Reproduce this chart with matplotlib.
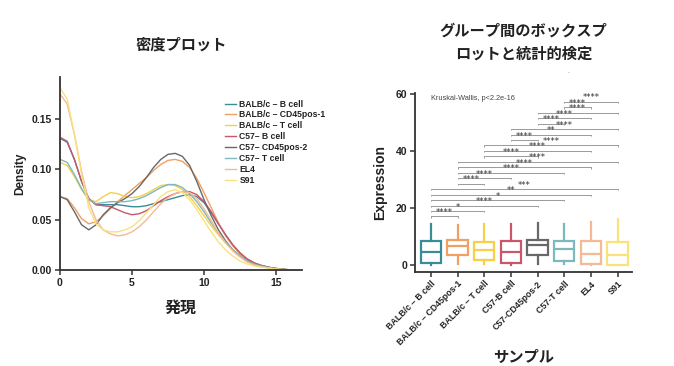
import matplotlib
matplotlib.use("Agg")
import matplotlib.pyplot as plt

# ---- data ----
groups = ["BALB/c – B cell", "BALB/c – CD45pos-1", "BALB/c – T cell", "C57– B cell",
          "C57– CD45pos-2", "C57– T cell", "EL4", "S91"]
box_labels = ["BALB/c – B cell", "BALB/c – CD45pos-1", "BALB/c – T cell", "C57-B cell",
              "C57-CD45pos-2", "C57-T cell", "EL4", "S91"]
colors = ["#3B8C99", "#F0A062", "#F5D048", "#C9566B", "#686868", "#7DB8BE", "#F4BA98", "#F9E27C"]

dens_x = [0, 0.5, 1, 1.5, 2, 2.5, 3, 3.5, 4, 4.5, 5, 5.5, 6, 6.5, 7, 7.5, 8, 8.5,
          9, 9.5, 10, 10.5, 11, 11.5, 12, 12.5, 13, 13.5, 14, 14.5, 15, 15.5, 16]
dens_balb_b = [0.131, 0.127, 0.110, 0.088, 0.071, 0.065, 0.065, 0.065, 0.065, 0.064, 0.063,
               0.063, 0.064, 0.066, 0.068, 0.070, 0.072, 0.074, 0.075, 0.073, 0.067, 0.057,
               0.046, 0.035, 0.025, 0.017, 0.011, 0.007, 0.0045, 0.0028, 0.0016, 0.0008, 0.0002]
dens_balb_cd45 = [0.073, 0.071, 0.062, 0.051, 0.046, 0.048, 0.054, 0.061, 0.068, 0.074, 0.080,
                  0.086, 0.092, 0.099, 0.105, 0.109, 0.110, 0.108, 0.102, 0.091, 0.077, 0.062,
                  0.047, 0.034, 0.024, 0.016, 0.011, 0.007, 0.0045, 0.0028, 0.0016, 0.0008, 0.0002]
dens_balb_t = [0.107, 0.104, 0.093, 0.080, 0.070, 0.068, 0.073, 0.077, 0.076, 0.073, 0.072,
               0.073, 0.076, 0.080, 0.084, 0.085, 0.084, 0.080, 0.073, 0.064, 0.054, 0.044,
               0.035, 0.027, 0.020, 0.014, 0.009, 0.006, 0.004, 0.0025, 0.0015, 0.0007, 0.0002]
dens_c57_b = [0.132, 0.128, 0.110, 0.088, 0.071, 0.065, 0.064, 0.063, 0.060, 0.057, 0.055,
              0.056, 0.059, 0.064, 0.069, 0.073, 0.076, 0.078, 0.078, 0.075, 0.068, 0.058,
              0.046, 0.035, 0.025, 0.017, 0.011, 0.007, 0.0045, 0.0028, 0.0016, 0.0008, 0.0002]
dens_c57_cd45 = [0.073, 0.070, 0.058, 0.045, 0.040, 0.045, 0.055, 0.062, 0.067, 0.071, 0.076,
                 0.083, 0.092, 0.102, 0.110, 0.115, 0.116, 0.113, 0.104, 0.088, 0.070, 0.054,
                 0.040, 0.029, 0.020, 0.014, 0.009, 0.006, 0.004, 0.0025, 0.0015, 0.0007, 0.0002]
dens_c57_t = [0.110, 0.107, 0.095, 0.081, 0.070, 0.066, 0.067, 0.068, 0.068, 0.068, 0.069,
              0.071, 0.074, 0.078, 0.082, 0.085, 0.085, 0.082, 0.076, 0.068, 0.058, 0.047,
              0.037, 0.028, 0.020, 0.014, 0.009, 0.006, 0.004, 0.0025, 0.0015, 0.0007, 0.0002]
dens_el4 = [0.175, 0.165, 0.135, 0.098, 0.068, 0.050, 0.040, 0.036, 0.034, 0.035, 0.038,
            0.043, 0.050, 0.058, 0.066, 0.072, 0.076, 0.078, 0.077, 0.071, 0.061, 0.049,
            0.037, 0.027, 0.019, 0.013, 0.008, 0.005, 0.003, 0.002, 0.001, 0.0005, 0.0001]
dens_s91 = [0.181, 0.170, 0.135, 0.095, 0.062, 0.046, 0.040, 0.038, 0.038, 0.040, 0.043,
            0.049, 0.057, 0.065, 0.073, 0.078, 0.080, 0.077, 0.070, 0.060, 0.049, 0.038,
            0.028, 0.020, 0.014, 0.009, 0.006, 0.004, 0.003, 0.002, 0.001, 0.0005, 0.0001]
densities = [dens_balb_b, dens_balb_cd45, dens_balb_t, dens_c57_b,
             dens_c57_cd45, dens_c57_t, dens_el4, dens_s91]

# box stats
whislo = [0.0, 0.2, 0.2, 0.0, 0.2, 0.2, 0.0, 0.0]
q1 = [0.5, 3.3, 1.6, 0.6, 3.5, 1.4, 0.2, 0.0]
med = [4.6, 6.7, 5.1, 4.6, 7.0, 5.4, 3.9, 3.4]
q3 = [8.4, 8.9, 8.1, 8.5, 8.9, 8.3, 8.4, 8.0]
whishi = [14.4, 14.0, 14.3, 14.4, 14.6, 14.3, 15.2, 16.1]

# pairwise comparisons (bottom to top) and their significance labels
pairs = [(0, 1), (0, 2), (0, 4), (0, 5), (0, 6), (0, 7),
         (1, 2), (1, 3), (1, 5), (1, 6), (1, 7),
         (2, 4), (2, 6), (2, 7),
         (3, 4), (3, 6), (3, 7),
         (4, 5), (4, 6), (4, 7),
         (5, 6), (5, 7)]
sig = ["****", "*", "****", "*", "**", "***",
       "****", "****", "****", "****", "****",
       "****", "****", "****",
       "****", "**", "****",
       "****", "****", "****",
       "****", "****"]

TEXT = "#222222"
SPINE = "#333333"
CJK = ["Noto Sans CJK JP", "DejaVu Sans"]
plt.rcParams["font.family"] = ["Liberation Sans", "Noto Sans CJK JP", "DejaVu Sans"]

fig = plt.figure(figsize=(6.74, 3.66), dpi=100)
fig.patch.set_facecolor("white")


def style_axes(ax):
    for side in ("top", "right"):
        ax.spines[side].set_visible(False)
    for side in ("left", "bottom"):
        ax.spines[side].set_color(SPINE)
        ax.spines[side].set_linewidth(1.3)
    ax.tick_params(direction="out", length=3.5, width=1.1, color=SPINE,
                   labelsize=7.5, labelcolor=TEXT, pad=2)
    for lab in ax.get_xticklabels() + ax.get_yticklabels():
        lab.set_fontweight("bold")


# ---- density plot ----
ax1 = fig.add_axes([0.089, 0.262, 0.359, 0.528])
for name, col, d in zip(groups, colors, densities):
    ax1.plot(dens_x, d, color=col, lw=1.0, label=name)
ax1.set_xlim(0, 16.8)
ax1.set_ylim(0, 0.192)
ax1.set_xticks([0, 5, 10, 15])
ax1.set_yticks([0, 0.05, 0.10, 0.15])
ax1.set_yticklabels(["0.00", "0.05", "0.10", "0.15"])
style_axes(ax1)
ax1.set_ylabel("Density", fontsize=8.5, fontweight="bold", color=TEXT, labelpad=4)
ax1.set_xlabel("発現", family=CJK, fontsize=11.5, fontweight="bold", color=TEXT, labelpad=9)
ax1.set_title("密度プロット", family=CJK, fontsize=11, fontweight="bold", color=TEXT, pad=20)
leg = ax1.legend(loc="upper left", bbox_to_anchor=(0.334, 0.728), bbox_transform=fig.transFigure,
                 frameon=False, fontsize=6.2, handlelength=1.3, handletextpad=0.35,
                 labelspacing=0.22, borderaxespad=0, borderpad=0)
for t in leg.get_texts():
    t.set_fontweight("bold")
    t.set_color(TEXT)

# ---- box plot ----
ax2 = fig.add_axes([0.6157, 0.256, 0.3215, 0.49])
stats = []
for i in range(len(groups)):
    stats.append({"whislo": whislo[i], "q1": q1[i], "med": med[i], "q3": q3[i],
                  "whishi": whishi[i], "fliers": []})
bp = ax2.bxp(stats, positions=range(len(groups)), widths=0.76, showcaps=False,
             showfliers=False, patch_artist=True)
for i, col in enumerate(colors):
    bp["boxes"][i].set(facecolor="white", edgecolor=col, linewidth=1.6)
    bp["medians"][i].set(color=col, linewidth=1.6)
    bp["whiskers"][2 * i].set(color=col, linewidth=1.6)
    bp["whiskers"][2 * i + 1].set(color=col, linewidth=1.6)

# significance brackets
y0, step = 17.0, 1.915
for k, ((a, b), s) in enumerate(zip(pairs, sig)):
    y = y0 + k * step
    ax2.plot([a, a, b, b], [y - 0.45, y, y, y - 0.45], color="#9A9A9A", lw=0.7,
             solid_capstyle="butt")
    ax2.text((a + b) / 2, y - 0.2, s, ha="center", va="bottom", fontsize=6,
             color="#333333", family="DejaVu Sans")
ax2.text(0, 58.3, "Kruskal-Wallis, p<2.2e-16", fontsize=5.3, color="#444444",
         ha="left", va="center")

ax2.set_xlim(-0.6, 7.53)
ax2.set_ylim(-2.6, 60.3)
ax2.set_yticks([0, 20, 40, 60])
ax2.set_xticks(range(len(groups)))
ax2.set_xticklabels(box_labels, rotation=45, ha="right", rotation_mode="anchor")
style_axes(ax2)
ax2.tick_params(axis="x", labelsize=6.3, pad=1.5)
ax2.set_ylabel("Expression", fontsize=10, fontweight="bold", color=TEXT, labelpad=6)
ax2.set_xlabel("サンプル", family=CJK, fontsize=11, fontweight="bold", color=TEXT, labelpad=1)
ax2.set_title("グループ間のボックスプ\nロットと統計的検定", family=CJK, fontsize=11,
              fontweight="bold", color=TEXT, pad=25, linespacing=1.5)
fig.text(569 / 674, 1 - 73 / 366, "-", fontsize=4, color="#888888", ha="center", va="center")

fig.savefig("out.png", dpi=100, facecolor="white")
